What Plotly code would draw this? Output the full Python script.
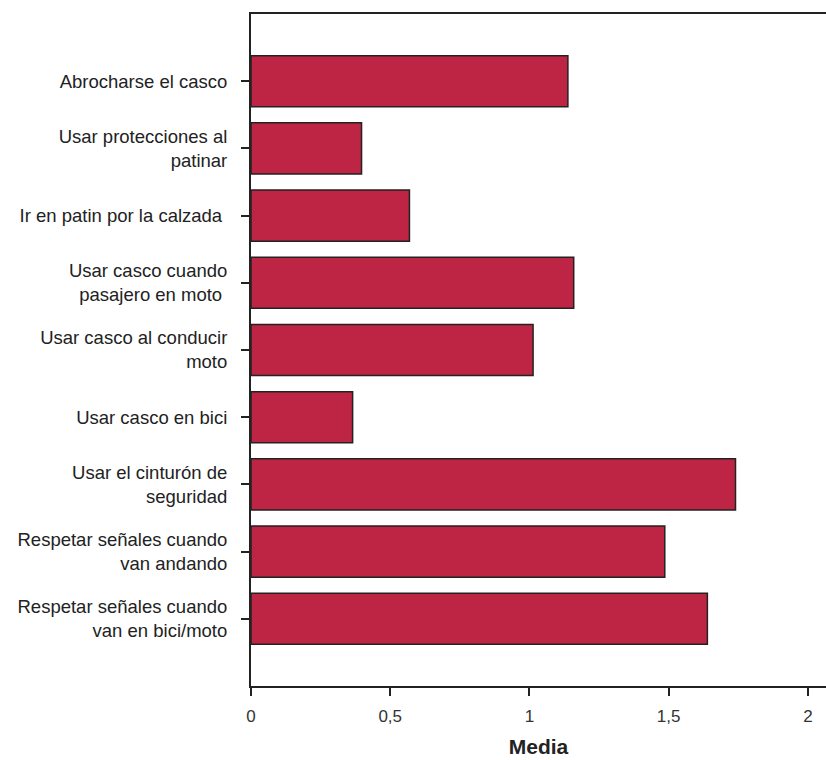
import plotly.graph_objects as go

categories = [
    "Abrocharse el casco",
    "Usar protecciones al<br>patinar",
    "Ir en patin por la calzada ",
    "Usar casco cuando<br>pasajero en moto ",
    "Usar casco al conducir<br>moto",
    "Usar casco en bici",
    "Usar el cinturón de<br>seguridad",
    "Respetar señales cuando<br>van andando",
    "Respetar señales cuando<br>van en bici/moto",
]
values = [1.138, 0.397, 0.569, 1.159, 1.013, 0.365, 1.740, 1.486, 1.639]
x_tickvals = [0, 0.5, 1, 1.5, 2]
x_ticktext = ["0", "0,5", "1", "1,5", "2"]

font_family = "Liberation Sans, Arial, sans-serif"

fig = go.Figure(
    go.Bar(
        x=values,
        y=categories,
        orientation="h",
        marker=dict(color="#BE2443", line=dict(color="#222222", width=1.5)),
        width=0.76,
        hoverinfo="x+y",
    )
)

fig.update_layout(
    width=826,
    height=760,
    margin=dict(l=251, r=0, t=14, b=74),
    paper_bgcolor="white",
    plot_bgcolor="white",
    showlegend=False,
    font=dict(family=font_family, color="#222222", size=18),
)

fig.update_xaxes(
    range=[0, 2.065],
    tickvals=x_tickvals,
    ticktext=x_ticktext,
    showgrid=False,
    zeroline=False,
    showline=True,
    linecolor="#222222",
    linewidth=2,
    mirror=True,
    ticks="outside",
    ticklen=8,
    tickwidth=2,
    tickcolor="#222222",
    tickfont=dict(size=17, color="#333333"),
    ticklabelstandoff=6,
    title=dict(text="<b>Media</b>", font=dict(size=21, color="#222222"), standoff=14),
)

fig.update_yaxes(
    categoryorder="array",
    categoryarray=categories,
    range=[9, -1],
    showgrid=False,
    zeroline=False,
    showline=True,
    linecolor="#222222",
    linewidth=2,
    ticks="outside",
    ticklen=8,
    tickwidth=2,
    tickcolor="#222222",
    tickfont=dict(size=18.5, color="#222222"),
    ticklabelstandoff=10,
)

fig.write_html(
    "out.html",
    config={"displayModeBar": False},
    post_script=(
        "document.body.style.margin='0';"
        "document.documentElement.style.overflow='hidden';"
        "document.body.style.overflow='hidden';"
    ),
)
